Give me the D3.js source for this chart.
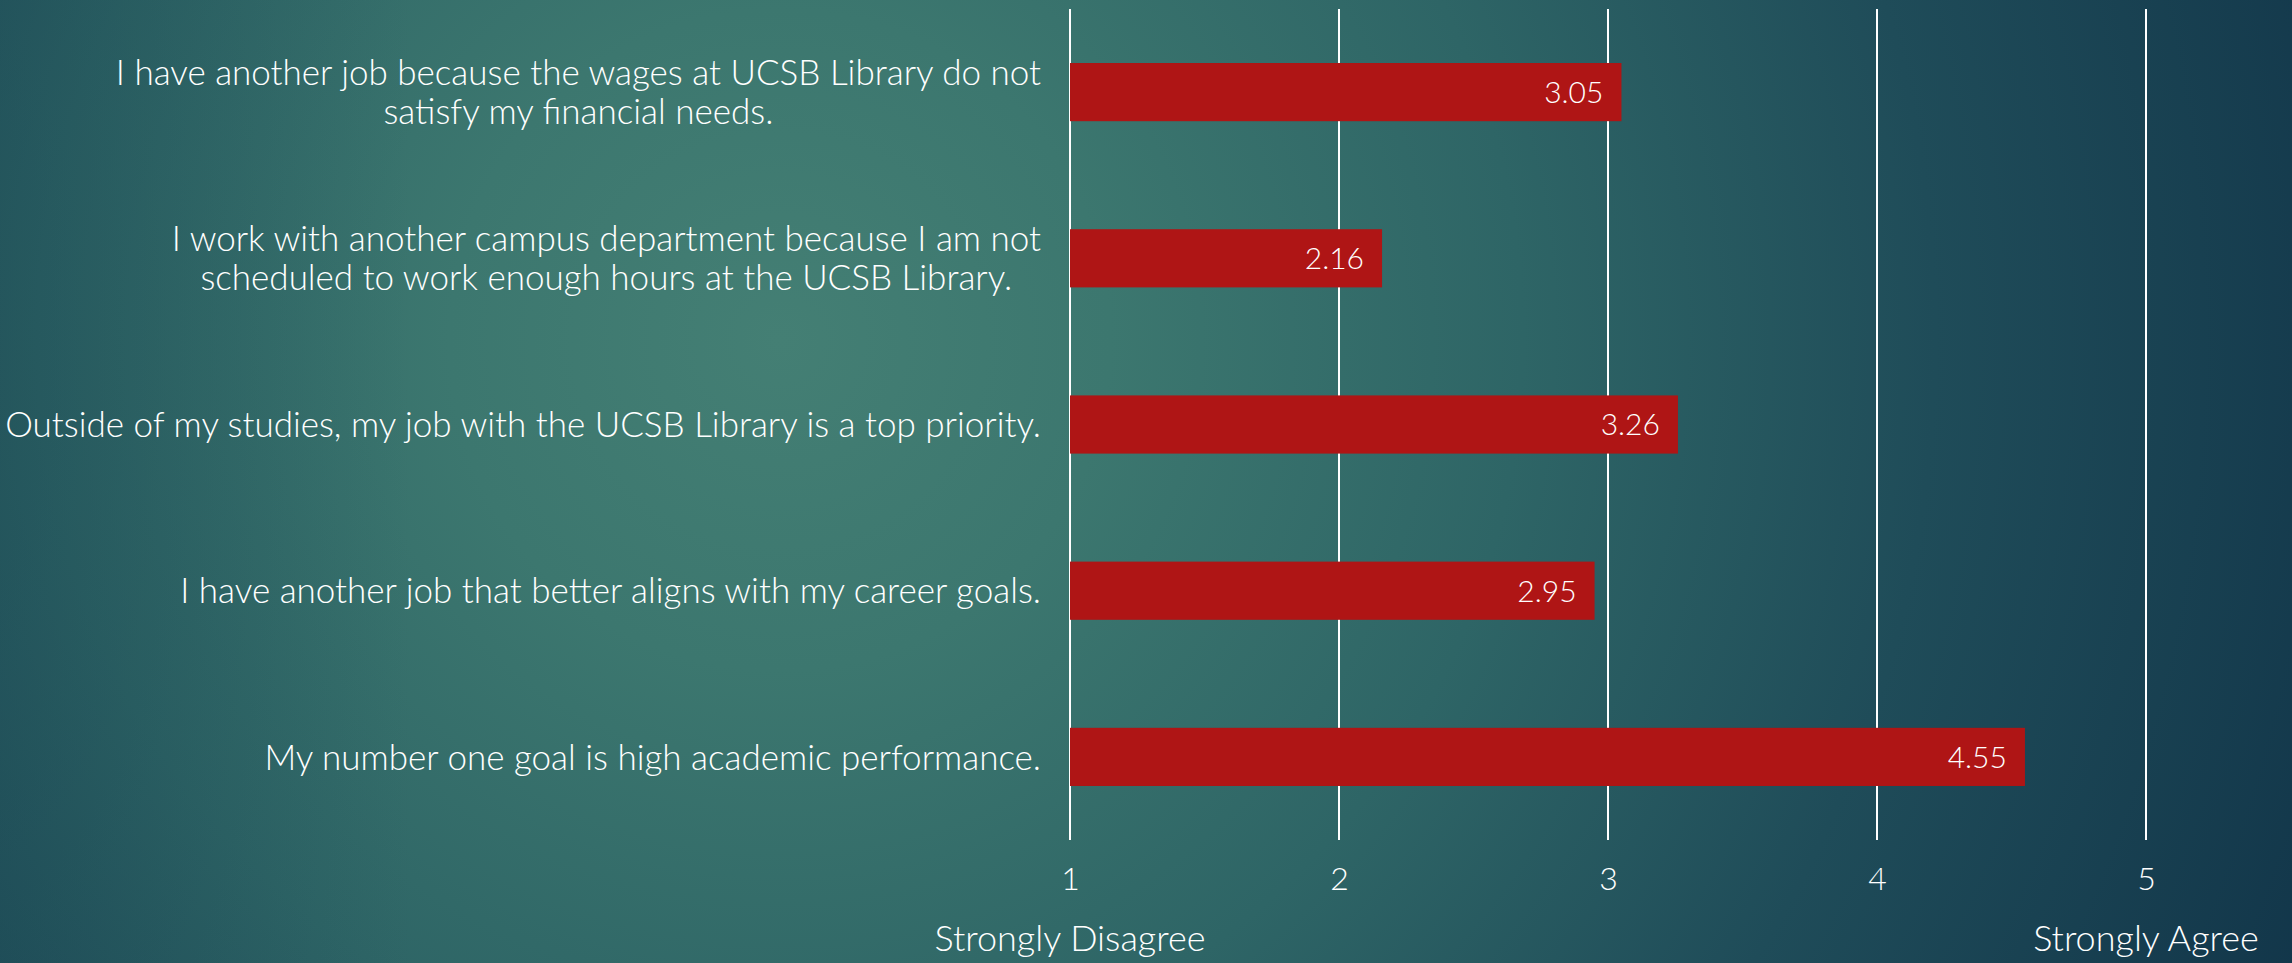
<!DOCTYPE html>
<html>
<head>
<meta charset="utf-8">
<script src="https://cdn.jsdelivr.net/npm/d3@7"></script>
<style>
  html, body { margin: 0; padding: 0; background: #1d4b56; }
  svg { display: block; }
</style>
</head>
<body>
<div id="chart"></div>
<script>
(function () {
  "use strict";

  // survey statements, one array entry per text line
  const categories = [
    ["I have another job because the wages at UCSB Library do not", "satisfy my financial needs."],
    ["I work with another campus department because I am not", "scheduled to work enough hours at the UCSB Library."],
    ["Outside of my studies, my job with the UCSB Library is a top priority."],
    ["I have another job that better aligns with my career goals."],
    ["My number one goal is high academic performance."]
  ];
  const values = [3.05, 2.16, 3.26, 2.95, 4.55];
  const ticks = [1, 2, 3, 4, 5];
  const endLabels = ["Strongly Disagree", "Strongly Agree"];

  const width = 2292;
  const height = 963;
  const margin = { top: 9, right: 146, bottom: 123, left: 1070 };
  const font = "Lato, 'Open Sans', sans-serif";

  const svg = d3.select("#chart").append("svg").attr("width", width).attr("height", height);

  const defs = svg.append("defs");
  const bg = defs.append("radialGradient").attr("id", "bg")
    .attr("gradientUnits", "userSpaceOnUse")
    .attr("cx", 780).attr("cy", 340).attr("r", 1650);
  [[0, "#447f74"], [0.2, "#3c776f"], [0.45, "#2e6566"], [0.7, "#1f4c59"], [1, "#12364a"]].forEach(function (s) {
    bg.append("stop").attr("offset", s[0]).attr("stop-color", s[1]);
  });
  const edge = defs.append("linearGradient").attr("id", "edge").attr("x1", 0).attr("x2", 1).attr("y1", 0).attr("y2", 0);
  edge.append("stop").attr("offset", 0).attr("stop-color", "#153f4e").attr("stop-opacity", 0.35);
  edge.append("stop").attr("offset", 0.18).attr("stop-color", "#153f4e").attr("stop-opacity", 0);

  svg.append("rect").attr("width", width).attr("height", height).attr("fill", "url(#bg)");
  svg.append("rect").attr("width", width).attr("height", height).attr("fill", "url(#edge)");

  const x = d3.scaleLinear().domain([1, 5]).range([margin.left, width - margin.right]);
  const y = d3.scaleBand()
    .domain(d3.range(categories.length))
    .range([margin.top, height - margin.bottom])
    .paddingInner(0.65)
    .paddingOuter(0.325);

  // vertical gridlines
  svg.append("g")
    .selectAll("line")
    .data(ticks)
    .enter()
    .append("line")
    .attr("x1", function (d) { return x(d); })
    .attr("x2", function (d) { return x(d); })
    .attr("y1", margin.top)
    .attr("y2", height - margin.bottom)
    .attr("stroke", "#ffffff")
    .attr("stroke-width", 2);

  // tick labels
  svg.append("g")
    .attr("transform", "translate(0," + (height - margin.bottom) + ")")
    .call(d3.axisBottom(x).tickValues(ticks).tickFormat(d3.format("d")).tickSize(0).tickPadding(27))
    .call(function (g) {
      g.select(".domain").remove();
      g.selectAll("text").attr("fill", "#ffffff").attr("font-size", 32).attr("font-family", font).attr("font-weight", 300);
    });

  svg.append("g")
    .selectAll("text")
    .data(endLabels)
    .enter()
    .append("text")
    .attr("x", function (_, i) { return x(i === 0 ? 1 : 5); })
    .attr("y", 951)
    .attr("text-anchor", "middle")
    .attr("fill", "#ffffff")
    .attr("font-size", 36)
    .attr("font-family", font)
    .attr("font-weight", 300)
    .text(function (d) { return d; });

  // bars
  svg.append("g")
    .selectAll("rect")
    .data(values)
    .enter()
    .append("rect")
    .attr("x", x(1))
    .attr("y", function (_, i) { return y(i); })
    .attr("width", function (d) { return x(d) - x(1); })
    .attr("height", y.bandwidth())
    .attr("fill", "#af1515");

  svg.append("g")
    .selectAll("text")
    .data(values)
    .enter()
    .append("text")
    .attr("x", function (d) { return x(d) - 18; })
    .attr("y", function (_, i) { return y(i) + y.bandwidth() / 2; })
    .attr("dy", "0.36em")
    .attr("text-anchor", "end")
    .attr("fill", "#ffffff")
    .attr("font-size", 30)
    .attr("font-family", font)
    .attr("font-weight", 300)
    .text(function (d) { return d3.format(".2f")(d); });

  // category labels: block right-aligned, lines centred within block
  const labelRight = 1041;
  const lineGap = 39;
  const labels = svg.append("g")
    .selectAll("g")
    .data(categories)
    .enter()
    .append("g");

  labels.each(function (lines, i) {
    const g = d3.select(this);
    const cy = y(i) + y.bandwidth() / 2;
    const texts = g.selectAll("text")
      .data(lines)
      .enter()
      .append("text")
      .attr("y", function (_, j) { return cy + (j - (lines.length - 1) / 2) * lineGap; })
      .attr("dy", "0.36em")
      .attr("text-anchor", "middle")
      .attr("fill", "#ffffff")
      .attr("font-size", 35)
      .attr("font-family", font)
      .attr("font-weight", 300)
      .text(function (d) { return d; });
    let w = 0;
    texts.each(function () { w = Math.max(w, this.getComputedTextLength()); });
    texts.attr("x", labelRight - w / 2);
  });
})();
</script>
</body>
</html>
